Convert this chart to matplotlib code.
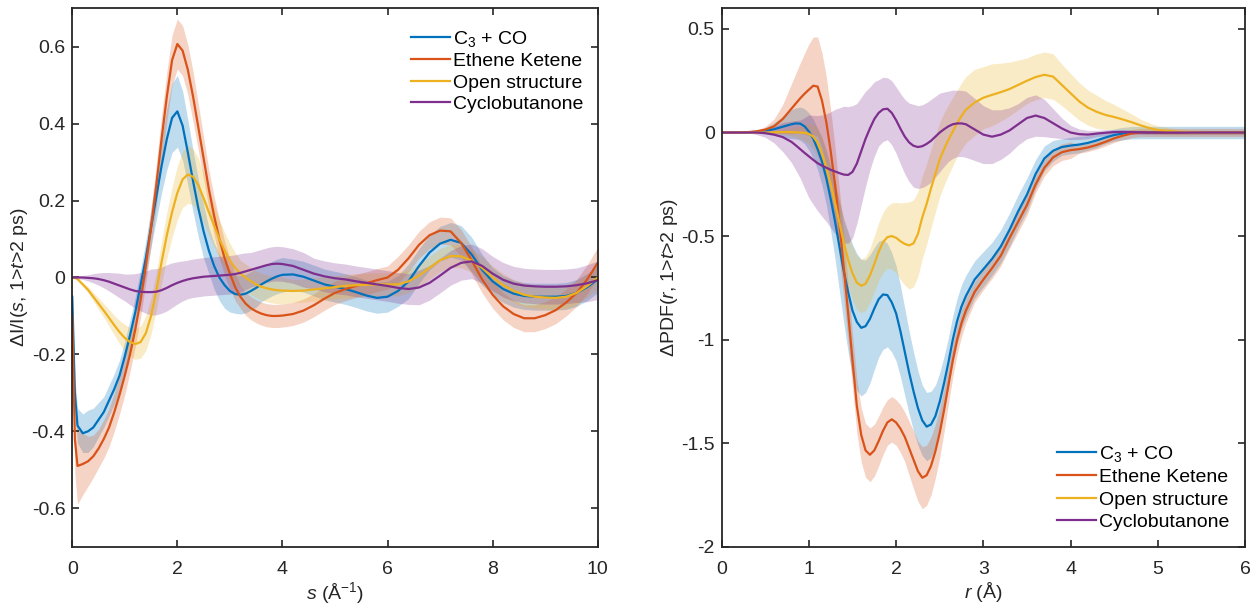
import numpy as np
import matplotlib
matplotlib.use('Agg')
import matplotlib.pyplot as plt
from matplotlib.ticker import FormatStrFormatter

plt.rcParams['font.family'] = ['Liberation Sans', 'DejaVu Sans']
plt.rcParams['mathtext.fontset'] = 'custom'
plt.rcParams['mathtext.rm'] = 'Liberation Sans'
plt.rcParams['mathtext.it'] = 'Liberation Sans:italic'
plt.rcParams['axes.unicode_minus'] = False

labels = ['C$_3$ + CO', 'Ethene Ketene', 'Open structure', 'Cyclobutanone']
colors = ['#0072BD', '#D95319', '#EDB120', '#7E2F8E']

# ---- left panel: dI/I(s) ----
s = [0, 0.05, 0.1, 0.2, 0.3, 0.4, 0.5, 0.6, 0.7, 0.8, 0.9, 1.0, 1.1, 1.2, 1.3, 1.4,
     1.5, 1.6, 1.7, 1.8, 1.9, 2.0, 2.1, 2.2, 2.3, 2.4, 2.5, 2.6, 2.7, 2.8, 2.9, 3.0,
     3.1, 3.2, 3.3, 3.4, 3.5, 3.6, 3.7, 3.8, 3.9, 4.0, 4.2, 4.4, 4.6, 4.8, 5.0, 5.2,
     5.4, 5.6, 5.8, 6.0, 6.2, 6.4, 6.6, 6.8, 7.0, 7.2, 7.4, 7.6, 7.8, 8.0, 8.2, 8.4,
     8.6, 8.8, 9.0, 9.2, 9.4, 9.6, 9.8, 10.0]

c3co_s = [-0.05, -0.30, -0.385, -0.405, -0.40, -0.39, -0.37, -0.35, -0.32, -0.29, -0.255,
          -0.205, -0.15, -0.09, -0.02, 0.05, 0.13, 0.21, 0.29, 0.36, 0.415, 0.432, 0.395,
          0.325, 0.25, 0.18, 0.12, 0.07, 0.03, 0.0, -0.02, -0.035, -0.043, -0.045, -0.042,
          -0.035, -0.027, -0.018, -0.01, -0.003, 0.003, 0.007, 0.008, 0.002, -0.008,
          -0.018, -0.024, -0.03, -0.038, -0.047, -0.053, -0.05, -0.035, -0.01, 0.03,
          0.065, 0.088, 0.098, 0.09, 0.06, 0.02, -0.01, -0.03, -0.042, -0.048, -0.05,
          -0.05, -0.05, -0.048, -0.04, -0.025, -0.005]
ek_s = [-0.1, -0.42, -0.49, -0.485, -0.478, -0.465, -0.445, -0.42, -0.39, -0.35, -0.305,
        -0.255, -0.20, -0.135, -0.06, 0.03, 0.13, 0.24, 0.36, 0.47, 0.565, 0.607, 0.59,
        0.54, 0.47, 0.39, 0.31, 0.23, 0.16, 0.10, 0.05, 0.01, -0.025, -0.05, -0.068,
        -0.08, -0.088, -0.094, -0.098, -0.1, -0.1, -0.099, -0.095, -0.086, -0.072,
        -0.055, -0.04, -0.03, -0.022, -0.015, -0.007, 0.0, 0.02, 0.05, 0.085, 0.11,
        0.122, 0.12, 0.09, 0.045, -0.005, -0.045, -0.075, -0.095, -0.106, -0.106,
        -0.098, -0.085, -0.065, -0.04, -0.005, 0.038]
open_s = [0, -0.001, -0.004, -0.018, -0.032, -0.05, -0.068, -0.086, -0.105, -0.124, -0.142,
          -0.157, -0.168, -0.173, -0.168, -0.145, -0.1, -0.035, 0.04, 0.11, 0.17, 0.22,
          0.255, 0.268, 0.262, 0.24, 0.206, 0.17, 0.135, 0.1, 0.07, 0.044, 0.025, 0.01,
          0.0, -0.01, -0.018, -0.024, -0.028, -0.031, -0.033, -0.034, -0.035, -0.034,
          -0.031, -0.028, -0.025, -0.022, -0.02, -0.019, -0.018, -0.018, -0.018, -0.01,
          0.005, 0.025, 0.045, 0.056, 0.055, 0.044, 0.025, 0.0, -0.02, -0.035, -0.045,
          -0.05, -0.052, -0.053, -0.05, -0.04, -0.022, 0.0]
cb_s = [0, 0, 0, 0, -0.001, -0.002, -0.004, -0.007, -0.011, -0.016, -0.021, -0.026, -0.031,
        -0.035, -0.037, -0.038, -0.038, -0.037, -0.033, -0.027, -0.02, -0.014, -0.009,
        -0.005, -0.002, 0.0, 0.002, 0.003, 0.004, 0.005, 0.006, 0.007, 0.009, 0.012,
        0.016, 0.02, 0.024, 0.028, 0.032, 0.035, 0.036, 0.035, 0.03, 0.02, 0.01, 0.003,
        -0.002, -0.005, -0.01, -0.014, -0.018, -0.022, -0.027, -0.03, -0.026, -0.014,
        0.005, 0.025, 0.038, 0.042, 0.03, 0.01, -0.006, -0.016, -0.021, -0.023, -0.024,
        -0.024, -0.023, -0.02, -0.015, -0.007]

# band half-widths
c3co_s_err = [0.02, 0.04, 0.045, 0.05, 0.055, 0.05, 0.045, 0.04, 0.04, 0.04, 0.04, 0.04,
              0.04, 0.04, 0.04, 0.045, 0.05, 0.06, 0.07, 0.08, 0.09, 0.093, 0.09, 0.085,
              0.08, 0.075, 0.07, 0.06, 0.06, 0.06, 0.06, 0.055, 0.05, 0.05, 0.05, 0.05,
              0.05, 0.045, 0.045, 0.045, 0.045, 0.045, 0.04, 0.04, 0.04, 0.04, 0.04, 0.04,
              0.04, 0.04, 0.04, 0.04, 0.04, 0.045, 0.045, 0.045, 0.045, 0.045, 0.045,
              0.045, 0.04, 0.035, 0.035, 0.035, 0.035, 0.035, 0.035, 0.035, 0.035, 0.035,
              0.035, 0.035]
ek_s_err = [0.03, 0.09, 0.1, 0.08, 0.065, 0.055, 0.05, 0.05, 0.05, 0.05, 0.05, 0.05, 0.045,
            0.045, 0.045, 0.045, 0.05, 0.055, 0.06, 0.065, 0.065, 0.065, 0.065, 0.065,
            0.065, 0.06, 0.055, 0.05, 0.05, 0.05, 0.045, 0.04, 0.035, 0.03, 0.03, 0.03,
            0.03, 0.03, 0.03, 0.03, 0.03, 0.03, 0.03, 0.03, 0.03, 0.03, 0.03, 0.03, 0.03,
            0.03, 0.03, 0.03, 0.035, 0.035, 0.035, 0.035, 0.035, 0.035, 0.035, 0.035,
            0.035, 0.035, 0.035, 0.035, 0.035, 0.035, 0.035, 0.035, 0.035, 0.035, 0.038,
            0.04]
open_s_err = [0, 0.001, 0.002, 0.005, 0.008, 0.011, 0.015, 0.018, 0.022, 0.025, 0.03, 0.035,
              0.038, 0.04, 0.042, 0.045, 0.047, 0.05, 0.055, 0.06, 0.065, 0.07, 0.073,
              0.075, 0.073, 0.07, 0.065, 0.06, 0.055, 0.05, 0.047, 0.045, 0.04, 0.035,
              0.035, 0.035, 0.035, 0.035, 0.035, 0.035, 0.035, 0.035, 0.03, 0.03, 0.03,
              0.03, 0.03, 0.03, 0.03, 0.03, 0.03, 0.03, 0.03, 0.03, 0.03, 0.03, 0.03, 0.03,
              0.03, 0.03, 0.03, 0.03, 0.03, 0.03, 0.03, 0.03, 0.03, 0.03, 0.03, 0.03, 0.03,
              0.03]
cb_s_err = [0, 0.002, 0.003, 0.005, 0.008, 0.012, 0.016, 0.02, 0.024, 0.028, 0.032, 0.035,
            0.04, 0.045, 0.05, 0.055, 0.06, 0.06, 0.06, 0.06, 0.058, 0.055, 0.052, 0.05,
            0.05, 0.05, 0.05, 0.05, 0.05, 0.05, 0.05, 0.05, 0.05, 0.05, 0.048, 0.045,
            0.045, 0.045, 0.045, 0.045, 0.045, 0.045, 0.045, 0.045, 0.04, 0.04, 0.04, 0.04,
            0.04, 0.04, 0.04, 0.04, 0.04, 0.04, 0.045, 0.045, 0.045, 0.045, 0.045, 0.045,
            0.045, 0.045, 0.045, 0.045, 0.045, 0.045, 0.045, 0.045, 0.045, 0.045, 0.048,
            0.05]

# ---- right panel: dPDF(r) ----
r = [0.0, 0.1, 0.2, 0.3, 0.4, 0.5, 0.6, 0.7, 0.8,
     0.85, 0.9, 0.95, 1.0, 1.05, 1.1, 1.15, 1.2, 1.25, 1.3, 1.35, 1.4, 1.45, 1.5,
     1.55, 1.6, 1.65, 1.7, 1.75, 1.8, 1.85, 1.9, 1.95, 2.0, 2.05, 2.1, 2.15, 2.2,
     2.25, 2.3, 2.35, 2.4, 2.45, 2.5, 2.55, 2.6, 2.65, 2.7, 2.75, 2.8,
     2.9, 3.0, 3.1, 3.2, 3.3, 3.4, 3.5, 3.6, 3.7, 3.8, 3.9, 4.0, 4.1, 4.2, 4.3, 4.4,
     4.5, 4.6, 4.7, 4.8, 4.9, 5.0, 5.2, 5.4, 5.6, 5.8, 6.0]

c3co_r = [0, 0, 0, 0.001, 0.003, 0.008, 0.016, 0.028, 0.04,
          0.044, 0.043, 0.03, 0.005, -0.03, -0.08, -0.14, -0.22, -0.32, -0.43, -0.55,
          -0.67, -0.77, -0.86, -0.915, -0.943, -0.935, -0.9, -0.85, -0.805, -0.782,
          -0.785, -0.82, -0.873, -0.96, -1.06, -1.16, -1.25, -1.33, -1.39, -1.42, -1.41,
          -1.37, -1.3, -1.21, -1.11, -1.0, -0.91, -0.84, -0.79,
          -0.71, -0.66, -0.61, -0.55, -0.47, -0.38, -0.3, -0.2, -0.125, -0.088, -0.07,
          -0.063, -0.058, -0.05, -0.038, -0.024, -0.012, -0.005, -0.001, 0, 0, 0,
          0, 0, 0, 0, 0]
ek_r = [0, 0, 0, 0.002, 0.006, 0.014, 0.03, 0.065, 0.115,
        0.14, 0.165, 0.187, 0.207, 0.226, 0.222, 0.155, 0.05, -0.09, -0.25, -0.44,
        -0.65, -0.87, -1.1, -1.32, -1.46, -1.535, -1.556, -1.535, -1.49, -1.44, -1.4,
        -1.385, -1.4, -1.43, -1.47, -1.525, -1.58, -1.635, -1.667, -1.655, -1.61,
        -1.54, -1.45, -1.34, -1.22, -1.1, -1.0, -0.92, -0.86,
        -0.77, -0.71, -0.655, -0.595, -0.51, -0.43, -0.35, -0.25, -0.17, -0.12, -0.095,
        -0.085, -0.08, -0.072, -0.06, -0.045, -0.028, -0.015, -0.005, 0, 0, 0,
        0, 0, 0, 0, 0]
open_r = [0, 0, 0, 0, 0, 0, 0.001, 0.002, 0.002,
          0.001, 0.0, -0.002, -0.006, -0.02, -0.048, -0.1, -0.168, -0.25, -0.34, -0.435,
          -0.53, -0.615, -0.68, -0.725, -0.74, -0.73, -0.69, -0.635, -0.575, -0.53,
          -0.505, -0.5, -0.508, -0.525, -0.538, -0.545, -0.535, -0.49, -0.41, -0.345,
          -0.27, -0.2, -0.13, -0.08, -0.035, 0.005, 0.045, 0.08, 0.11,
          0.145, 0.168, 0.182, 0.195, 0.21, 0.23, 0.25, 0.268, 0.279, 0.27, 0.23, 0.19,
          0.15, 0.12, 0.1, 0.085, 0.075, 0.063, 0.05, 0.035, 0.022, 0.012,
          0.004, 0.001, 0, 0, 0]
cb_r = [0, 0, 0, 0, 0, -0.003, -0.01, -0.022, -0.045,
        -0.062, -0.08, -0.098, -0.115, -0.132, -0.148, -0.16, -0.17, -0.18, -0.188,
        -0.196, -0.203, -0.205, -0.19, -0.15, -0.09, -0.03, 0.02, 0.065, 0.095, 0.112,
        0.115, 0.095, 0.06, 0.018, -0.02, -0.048, -0.064, -0.07, -0.066, -0.055, -0.04,
        -0.02, 0.0, 0.016, 0.03, 0.04, 0.044, 0.044, 0.04,
        0.015, -0.01, -0.02, -0.01, 0.01, 0.04, 0.07, 0.082, 0.07, 0.045, 0.02, 0.0,
        -0.008, -0.01, -0.005, -0.001, 0.002, 0.003, 0.002, 0.001, 0, 0,
        0, 0, 0, 0, 0]

c3co_r_err = [0, 0, 0, 0, 0.005, 0.015, 0.03, 0.05, 0.07,
              0.075, 0.08, 0.085, 0.09, 0.095, 0.1, 0.115, 0.13, 0.155, 0.18, 0.215, 0.25,
              0.29, 0.32, 0.33, 0.33, 0.32, 0.31, 0.295, 0.28, 0.265, 0.25, 0.24, 0.23,
              0.22, 0.21, 0.2, 0.19, 0.18, 0.17, 0.165, 0.16, 0.15, 0.14, 0.13, 0.12,
              0.115, 0.11, 0.105, 0.1,
              0.09, 0.085, 0.08, 0.08, 0.08, 0.08, 0.08, 0.07, 0.06, 0.05, 0.04, 0.04,
              0.04, 0.035, 0.035, 0.03, 0.03, 0.03, 0.03, 0.03, 0.03, 0.03,
              0.03, 0.03, 0.03, 0.03, 0.03]
ek_r_err = [0, 0, 0, 0, 0.005, 0.015, 0.035, 0.07, 0.12,
            0.145, 0.17, 0.195, 0.22, 0.235, 0.24, 0.23, 0.22, 0.2, 0.18, 0.165, 0.15,
            0.14, 0.13, 0.13, 0.13, 0.13, 0.13, 0.125, 0.12, 0.115, 0.11, 0.11, 0.11,
            0.115, 0.12, 0.13, 0.14, 0.145, 0.15, 0.145, 0.14, 0.13, 0.12, 0.105, 0.09,
            0.08, 0.07, 0.065, 0.06,
            0.05, 0.05, 0.05, 0.05, 0.05, 0.05, 0.05, 0.04, 0.04, 0.04, 0.04, 0.04,
            0.02, 0.02, 0.02, 0.02, 0.02, 0.02, 0.02, 0.02, 0.02, 0.02,
            0.02, 0.02, 0.02, 0.02, 0.02]
open_r_err = [0, 0, 0, 0, 0, 0, 0.005, 0.01, 0.02,
              0.025, 0.03, 0.04, 0.05, 0.06, 0.07, 0.08, 0.09, 0.1, 0.11, 0.115, 0.12,
              0.125, 0.13, 0.13, 0.13, 0.13, 0.13, 0.135, 0.14, 0.145, 0.15, 0.16, 0.17,
              0.185, 0.2, 0.21, 0.21, 0.205, 0.2, 0.195, 0.19, 0.185, 0.18, 0.175, 0.17,
              0.165, 0.16, 0.16, 0.16,
              0.16, 0.15, 0.15, 0.14, 0.13, 0.12, 0.11, 0.11, 0.11, 0.11, 0.1, 0.095,
              0.09, 0.085, 0.08, 0.07, 0.06, 0.05, 0.04, 0.03, 0.025, 0.02,
              0.015, 0.012, 0.01, 0.01, 0.01]
cb_r_err = [0, 0, 0, 0, 0.01, 0.02, 0.04, 0.07, 0.1,
            0.12, 0.14, 0.17, 0.2, 0.215, 0.23, 0.245, 0.26, 0.28, 0.3, 0.315, 0.33,
            0.33, 0.32, 0.29, 0.26, 0.23, 0.2, 0.18, 0.16, 0.155, 0.15, 0.155, 0.16,
            0.17, 0.18, 0.19, 0.2, 0.2, 0.2, 0.2, 0.2, 0.195, 0.19, 0.18, 0.17, 0.165,
            0.16, 0.16, 0.16,
            0.15, 0.14, 0.13, 0.12, 0.11, 0.1, 0.1, 0.1, 0.09, 0.07, 0.05, 0.035,
            0.025, 0.02, 0.015, 0.015, 0.012, 0.01, 0.01, 0.01, 0.01, 0.01,
            0.01, 0.01, 0.01, 0.01, 0.01]


def style_axes(ax):
    for sp in ax.spines.values():
        sp.set_linewidth(1.3)
        sp.set_color('#262626')
    ax.tick_params(direction='in', top=True, right=True, length=5, width=1.2,
                   color='#262626', labelsize=14, labelcolor='#262626')
    ax.tick_params(axis='y', pad=5)
    ax.tick_params(axis='x', pad=10)


def panel(ax, x, series, errs):
    x = np.array(x)
    for y, e, c in zip(series, errs, colors):
        y = np.array(y)
        e = np.array(e)
        ax.fill_between(x, y - e, y + e, color=c, alpha=0.25, lw=0)
    for y, c, lab in zip(series, colors, labels):
        ax.plot(x, y, color=c, lw=1.6, label=lab)


fig = plt.figure(figsize=(12.52, 6.09), dpi=100)
ax1 = fig.add_axes([0.0577, 0.1023, 0.4197, 0.8841])
ax2 = fig.add_axes([0.5764, 0.1023, 0.4180, 0.8841])

panel(ax1, s, [c3co_s, ek_s, open_s, cb_s], [c3co_s_err, ek_s_err, open_s_err, cb_s_err])
ax1.set_xlim(0, 10)
ax1.set_ylim(-0.7, 0.7)
ax1.set_xticks(np.arange(0, 11, 2))
ax1.set_yticks(np.round(np.arange(-0.6, 0.61, 0.2), 1))
ax1.yaxis.set_major_formatter(FormatStrFormatter('%g'))
ax1.set_xlabel(r'$\it{s}$ (Å$^{-1}$)', fontsize=14, color='#262626', labelpad=2)
ax1.set_ylabel(r'ΔI/I($\it{s}$, 1>$\it{t}$>2 ps)', fontsize=14, color='#262626', labelpad=1)
style_axes(ax1)
ax1.legend(loc='upper right', bbox_to_anchor=(1.012, 1.0), frameon=False, fontsize=14,
           handlelength=2.0, handletextpad=0.15, labelspacing=0.2, borderaxespad=0.65)

panel(ax2, r, [c3co_r, ek_r, open_r, cb_r], [c3co_r_err, ek_r_err, open_r_err, cb_r_err])
ax2.set_xlim(0, 6)
ax2.set_ylim(-2, 0.6)
ax2.set_xticks(np.arange(0, 7, 1))
ax2.set_yticks([-2, -1.5, -1, -0.5, 0, 0.5])
ax2.yaxis.set_major_formatter(FormatStrFormatter('%g'))
ax2.set_xlabel(r'$\it{r}$ (Å)', fontsize=14, color='#262626', labelpad=2)
ax2.set_ylabel(r'ΔPDF($\it{r}$, 1>$\it{t}$>2 ps)', fontsize=14, color='#262626', labelpad=1)
style_axes(ax2)
ax2.legend(loc='lower right', frameon=False, fontsize=14, handlelength=2.0,
           handletextpad=0.15, labelspacing=0.25, borderaxespad=0.4)

fig.savefig('out.png', dpi=100)
